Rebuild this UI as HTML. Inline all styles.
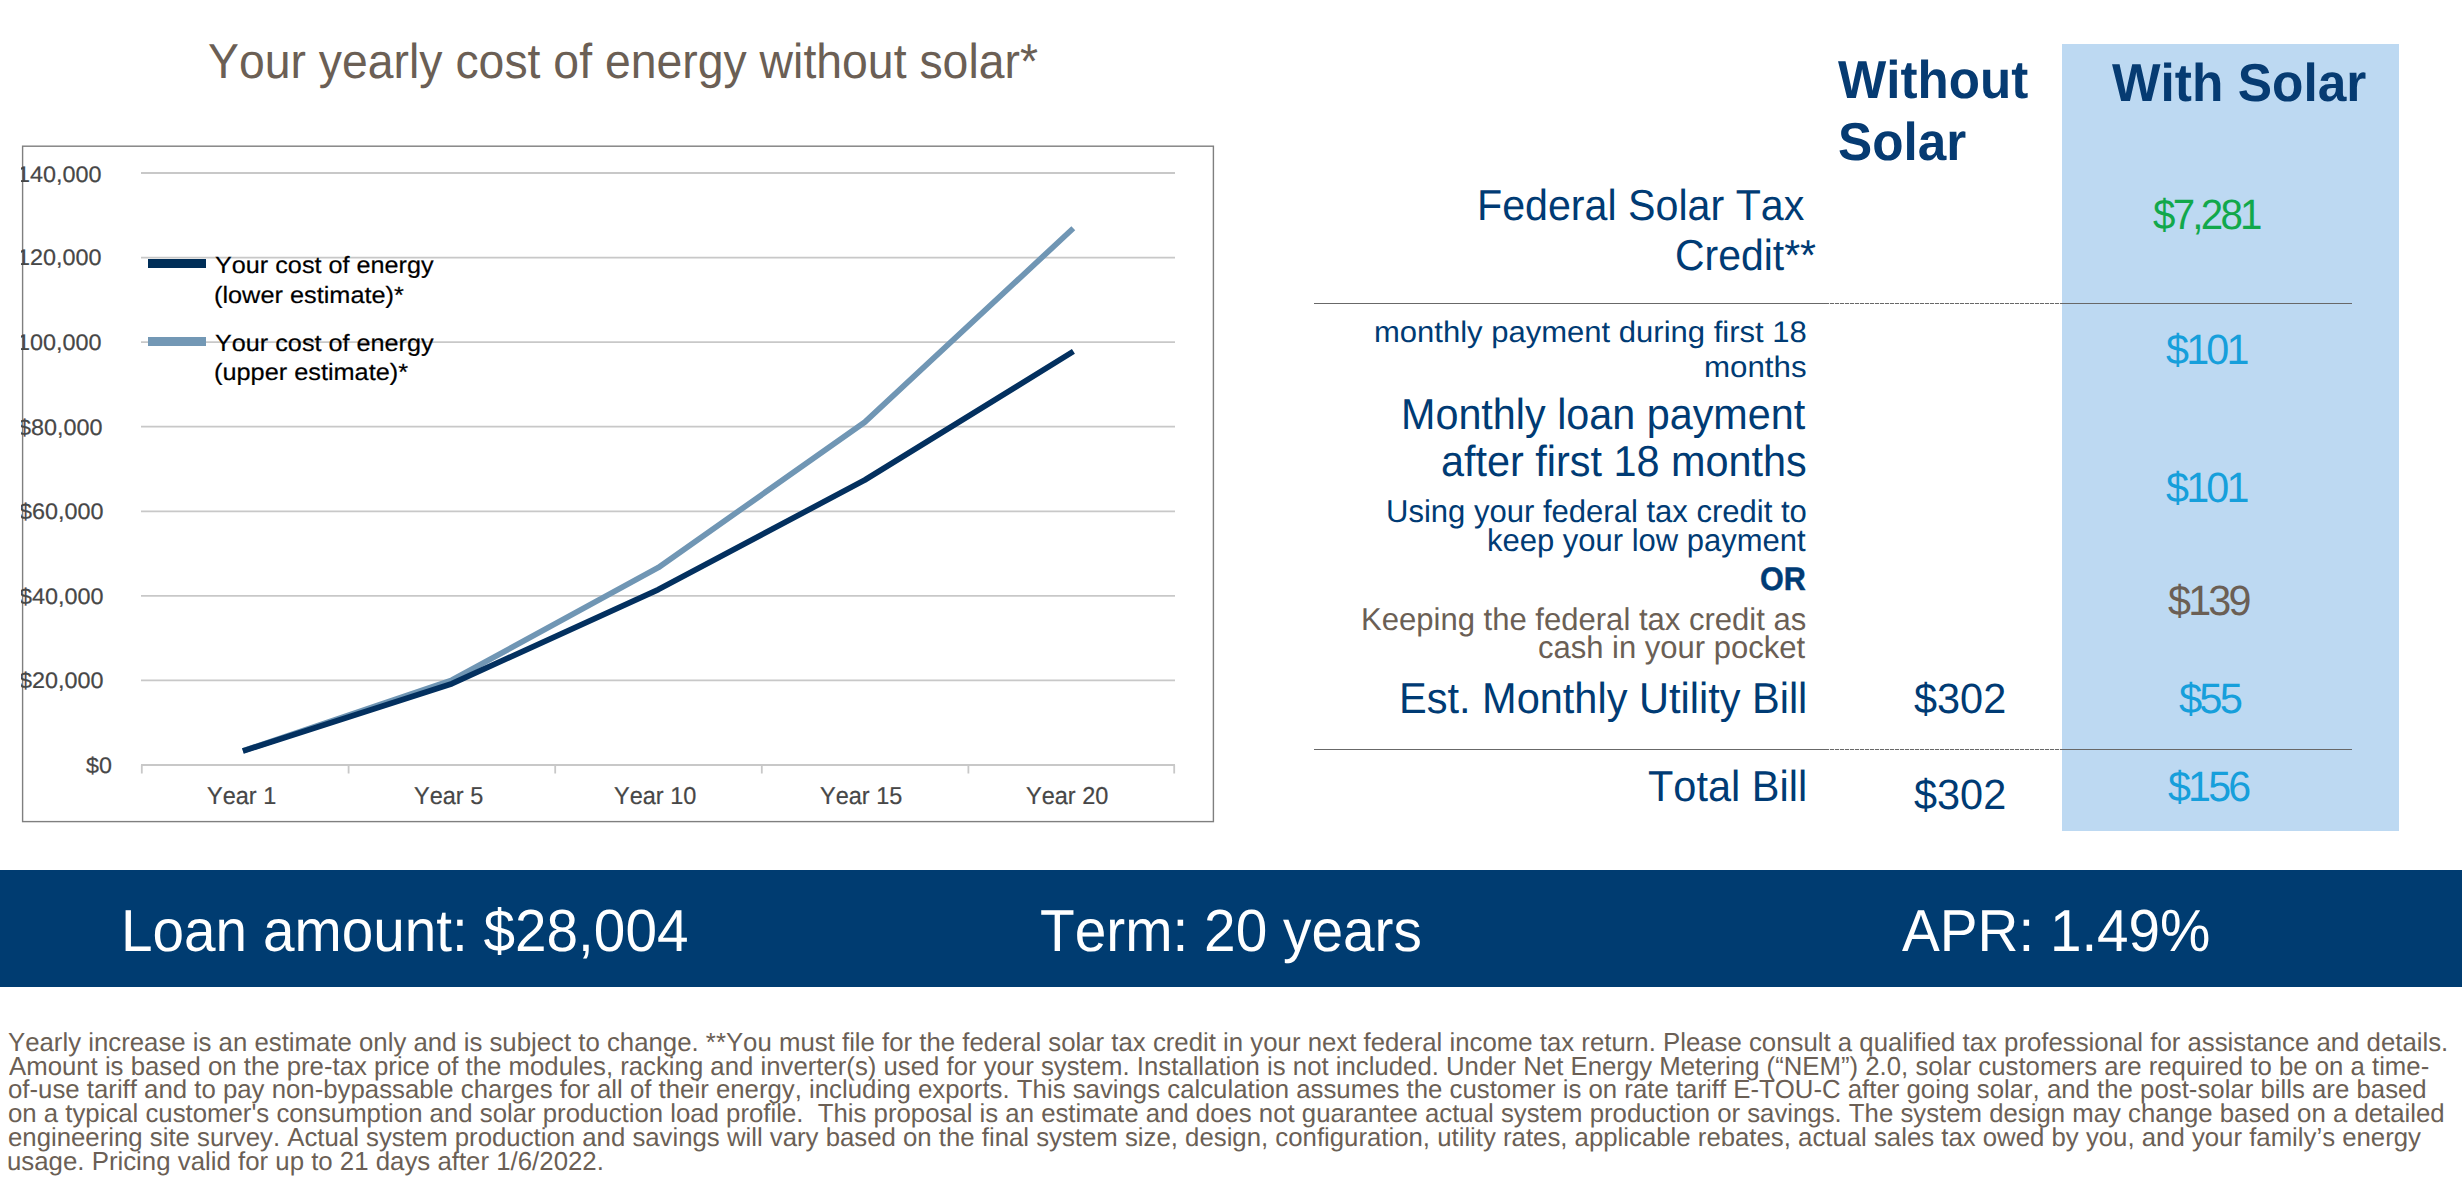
<!DOCTYPE html>
<html lang="en">
<head>
<meta charset="utf-8">
<title>Solar savings proposal</title>
<style>
  html, body { margin: 0; padding: 0; background: #ffffff; }
  body { width: 2462px; height: 1202px; position: relative; overflow: hidden;
         font-family: "Liberation Sans", sans-serif; color: #003b74; }
  h1, p, section, div { margin: 0; padding: 0; font-size: inherit; font-weight: normal; }
  .t { position: absolute; white-space: pre; line-height: 1; transform-origin: 0 0; margin: 0; font-weight: normal; font-kerning: none; text-rendering: geometricPrecision; }
  #chart-svg { position: absolute; left: 0; top: 0; }
  #chart-box { position: absolute; left: 21px; top: 145px; width: 1194px; height: 678px; overflow: hidden; }
  #chart-box .t { color: #474747; -webkit-text-stroke: 0.2px #474747; }
  #chart-box .lg { color: #000000; -webkit-text-stroke: 0.2px #000000; }
  #withbox { position: absolute; left: 2062px; top: 44px; width: 337px; height: 787px; background: #bdd9f2; }
  .rule { position: absolute; left: 1314px; width: 1038px; height: 1px; background: #686868; }
  .rule i { position: absolute; left: 511px; top: 0; width: 237px; height: 1px;
     background: repeating-linear-gradient(90deg, rgba(255,255,255,0) 0 4px, rgba(255,255,255,.9) 4px 5px); }
  #bar { position: absolute; left: 0; top: 870px; width: 2462px; height: 117px; background: #003c71; }
  #bar .t { color: #ffffff; }
  .hd .t { color: #063b72; font-weight: bold; }
  .brown .t, .brown.t, #title .t, #foot .t { color: #6b5f55; }
  .cyan { color: #169fdb; }
  .green { color: #12a84b; }
</style>
</head>
<body>

<section id="chart">
  <h1 id="title"><span class="t" style="left:207.72px;top:38.00px;font-size:49.0px;transform:scaleX(0.9464)">Your yearly cost of energy without solar*</span></h1>
  <svg id="chart-svg" width="1240" height="860" viewBox="0 0 1240 860">
  <rect x="22.6" y="146.2" width="1190.8" height="675.4" fill="#ffffff" stroke="#7f7f7f" stroke-width="1.4"/>
  <g stroke="#c8c8c8" stroke-width="1.8" fill="none">
    <line x1="141" x2="1175" y1="173" y2="173"/> <line x1="141" x2="1175" y1="257.6" y2="257.6"/> <line x1="141" x2="1175" y1="342.1" y2="342.1"/> <line x1="141" x2="1175" y1="426.7" y2="426.7"/> <line x1="141" x2="1175" y1="511.3" y2="511.3"/> <line x1="141" x2="1175" y1="595.9" y2="595.9"/> <line x1="141" x2="1175" y1="680.4" y2="680.4"/> <line x1="141" x2="1175" y1="765" y2="765"/>
    <path d="M141.8 765V773.6 M348.6 765V773.6 M555.2 765V773.6 M761.8 765V773.6 M968.4 765V773.6 M1174.2 765V773.6"/>
  </g>
  <polyline points="245.6,750 451.9,680.1 658.3,567.6 864.8,422.2 1071.2,230.2" fill="none" stroke="#7096b4" stroke-width="5.7" stroke-linejoin="round" stroke-linecap="square"/>
  <polyline points="245.6,750.2 451.9,683.7 658.3,589.6 864.8,480 1071,352.9" fill="none" stroke="#03305f" stroke-width="5.7" stroke-linejoin="round" stroke-linecap="square"/>
  <rect x="148" y="259" width="58" height="9" fill="#002e58"/>
  <rect x="148" y="337" width="58" height="9" fill="#7398b5"/>
</svg>
  <div id="chart-box">
    <span class="t" style="left:-16.94px;top:19.00px;font-size:22.4px;transform:scaleX(1.0448)">$140,000</span>
    <span class="t" style="left:-17.44px;top:102.00px;font-size:22.4px;transform:scaleX(1.0448)">$120,000</span>
    <span class="t" style="left:-17.14px;top:187.00px;font-size:22.4px;transform:scaleX(1.0448)">$100,000</span>
    <span class="t" style="left:-2.54px;top:272.00px;font-size:22.4px;transform:scaleX(1.0448)">$80,000</span>
    <span class="t" style="left:-1.84px;top:356.00px;font-size:22.4px;transform:scaleX(1.0448)">$60,000</span>
    <span class="t" style="left:-2.04px;top:441.00px;font-size:22.4px;transform:scaleX(1.0448)">$40,000</span>
    <span class="t" style="left:-2.04px;top:525.00px;font-size:22.4px;transform:scaleX(1.0448)">$20,000</span>
    <span class="t" style="left:64.94px;top:610.00px;font-size:22.4px;transform:scaleX(1.0400)">$0</span>
    <span class="t" style="left:185.72px;top:640.00px;font-size:24.5px;transform:scaleX(0.9590)">Year 1</span>
    <span class="t" style="left:393.30px;top:640.00px;font-size:24.5px;transform:scaleX(0.9590)">Year 5</span>
    <span class="t" style="left:592.50px;top:640.00px;font-size:24.5px;transform:scaleX(0.9590)">Year 10</span>
    <span class="t" style="left:799.00px;top:640.00px;font-size:24.5px;transform:scaleX(0.9590)">Year 15</span>
    <span class="t" style="left:1005.00px;top:640.00px;font-size:24.5px;transform:scaleX(0.9590)">Year 20</span>
    <span class="t lg" style="left:193.97px;top:110.00px;font-size:23.6px;transform:scaleX(1.0685)">Your cost of energy</span>
    <span class="t lg" style="left:193.16px;top:140.00px;font-size:23.6px;transform:scaleX(1.0726)">(lower estimate)*</span>
    <span class="t lg" style="left:193.97px;top:188.00px;font-size:23.6px;transform:scaleX(1.0685)">Your cost of energy</span>
    <span class="t lg" style="left:193.16px;top:217.00px;font-size:23.6px;transform:scaleX(1.0724)">(upper estimate)*</span>
  </div>
</section>

<section id="compare">
  <div id="withbox"></div>
  <div class="rule" style="top:303px"><i></i></div>
  <div class="rule" style="top:749px"><i></i></div>
  <div class="hd">
    <span class="t" style="left:1838.10px;top:54.00px;font-size:53.3px;transform:scaleX(0.9590)">Without</span>
    <span class="t" style="left:1837.56px;top:116.00px;font-size:53.3px;transform:scaleX(0.9618)">Solar</span>
    <span class="t" style="left:2112.30px;top:57.00px;font-size:53.3px;transform:scaleX(0.9652)">With Solar</span>
  </div>
  <div class="row">
    <span class="t" style="left:1477.48px;top:185.00px;font-size:43.4px;transform:scaleX(0.9491)">Federal Solar Tax</span>
    <span class="t" style="left:1674.68px;top:235.00px;font-size:43.4px;transform:scaleX(0.9433)">Credit**</span>
    <span class="t green" style="left:2153.32px;top:194.00px;font-size:42.4px;transform:scaleX(0.9511);letter-spacing:-2.9px">$7,281</span>
  </div>
  <div class="row">
    <span class="t" style="left:1373.71px;top:318.00px;font-size:29.7px;transform:scaleX(1.0450)">monthly payment during first 18</span>
    <span class="t" style="left:1703.89px;top:353.00px;font-size:29.7px;transform:scaleX(1.0536)">months</span>
    <span class="t cyan" style="left:2166.05px;top:329.00px;font-size:42.4px;transform:scaleX(0.9750);letter-spacing:-2.9px">$101</span>
  </div>
  <div class="row">
    <span class="t" style="left:1401.47px;top:394.00px;font-size:43.4px;transform:scaleX(0.9521)">Monthly loan payment</span>
    <span class="t" style="left:1441.33px;top:441.00px;font-size:43.4px;transform:scaleX(0.9537)">after first 18 months</span>
    <span class="t" style="left:1385.94px;top:496.00px;font-size:31.5px;transform:scaleX(0.9852)">Using your federal tax credit to</span>
    <span class="t" style="left:1487.03px;top:525.00px;font-size:31.5px;transform:scaleX(0.9834)">keep your low payment</span>
    <span class="t cyan" style="left:2166.05px;top:467.00px;font-size:42.4px;transform:scaleX(0.9750);letter-spacing:-2.9px">$101</span>
    <span class="t" style="left:1759.76px;top:563.00px;font-size:32.6px;transform:scaleX(0.9389);font-weight:bold;-webkit-text-stroke:0.45px #08427c">OR</span>
    <span class="t brown" style="left:1361.14px;top:604.00px;font-size:31.5px;transform:scaleX(0.9856)">Keeping the federal tax credit as</span>
    <span class="t brown" style="left:1538.37px;top:632.00px;font-size:31.5px;transform:scaleX(0.9844)">cash in your pocket</span>
    <span class="t brown" style="left:2168.31px;top:580.00px;font-size:42.4px;transform:scaleX(0.9747);letter-spacing:-2.9px">$139</span>
  </div>
  <div class="row">
    <span class="t" style="left:1398.95px;top:678.00px;font-size:43.4px;transform:scaleX(0.9568)">Est. Monthly Utility Bill</span>
    <span class="t" style="left:1913.81px;top:678.00px;font-size:42.4px;transform:scaleX(0.9777)">$302</span>
    <span class="t cyan" style="left:2178.51px;top:678.00px;font-size:42.4px;transform:scaleX(0.9833);letter-spacing:-2.9px">$55</span>
  </div>
  <div class="row">
    <span class="t" style="left:1648.04px;top:766.00px;font-size:43.4px;transform:scaleX(0.9563)">Total Bill</span>
    <span class="t" style="left:1913.81px;top:774.00px;font-size:42.4px;transform:scaleX(0.9777)">$302</span>
    <span class="t cyan" style="left:2168.31px;top:766.00px;font-size:42.4px;transform:scaleX(0.9718);letter-spacing:-2.9px">$156</span>
  </div>
</section>

<section id="bar">
  <span class="t" style="left:120.96px;top:31.00px;font-size:59.3px;transform:scaleX(0.9562)">Loan amount: $28,004</span>
    <span class="t" style="left:1040.00px;top:31.00px;font-size:59.3px;transform:scaleX(0.9579)">Term: 20 years</span>
    <span class="t" style="left:1901.66px;top:31.00px;font-size:59.3px;transform:scaleX(0.9549)">APR: 1.49%</span>
</section>

<p id="foot">
    <span class="t" style="left:8.06px;top:1029.00px;font-size:26px;transform:scaleX(0.9915)">Yearly increase is an estimate only and is subject to change. **You must file for the federal solar tax credit in your next federal income tax return. Please consult a qualified tax professional for assistance and details.</span>
    <span class="t" style="left:8.50px;top:1053.00px;font-size:26px;transform:scaleX(0.9904)">Amount is based on the pre-tax price of the modules, racking and inverter(s) used for your system. Installation is not included. Under Net Energy Metering (“NEM”) 2.0, solar customers are required to be on a time-</span>
    <span class="t" style="left:7.81px;top:1076.00px;font-size:26px;transform:scaleX(0.9915)">of-use tariff and to pay non-bypassable charges for all of their energy, including exports. This savings calculation assumes the customer is on rate tariff E-TOU-C after going solar, and the post-solar bills are based</span>
    <span class="t" style="left:7.81px;top:1100.00px;font-size:26px;transform:scaleX(0.9909)">on a typical customer&#x27;s consumption and solar production load profile.  This proposal is an estimate and does not guarantee actual system production or savings. The system design may change based on a detailed</span>
    <span class="t" style="left:7.81px;top:1124.00px;font-size:26px;transform:scaleX(0.9909)">engineering site survey. Actual system production and savings will vary based on the final system size, design, configuration, utility rates, applicable rebates, actual sales tax owed by you, and your family’s energy</span>
    <span class="t" style="left:7.06px;top:1148.00px;font-size:26px;transform:scaleX(0.9927)">usage. Pricing valid for up to 21 days after 1/6/2022.</span>
</p>

</body>
</html>
